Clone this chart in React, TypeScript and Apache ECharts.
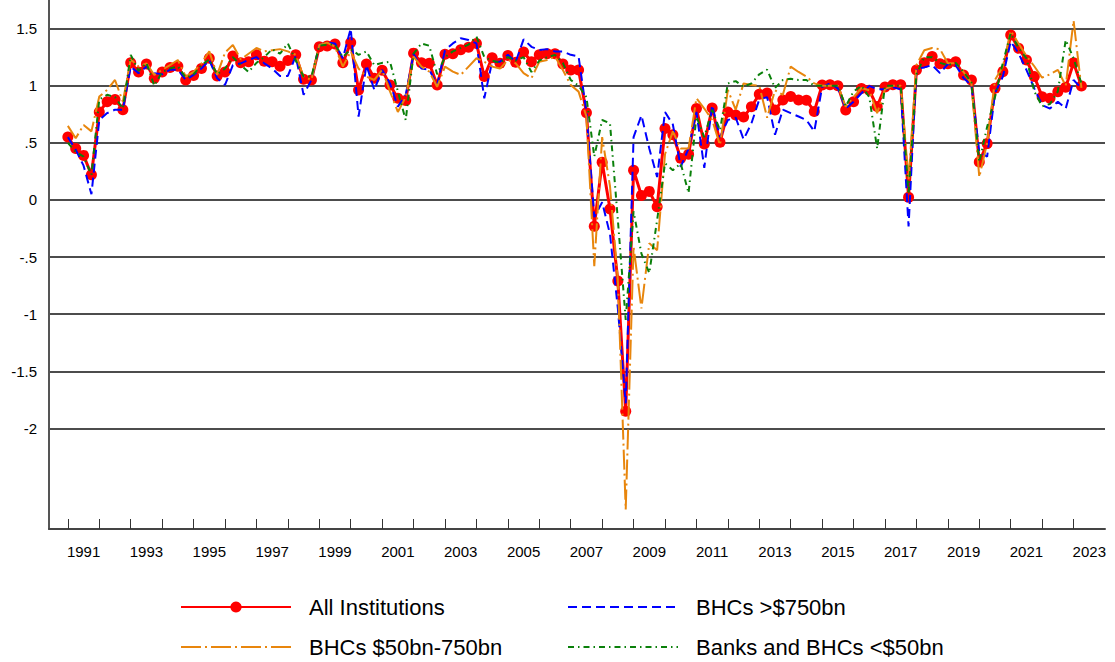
import React, { useEffect, useRef } from "react";
import * as echarts from "echarts";

// Quarterly data, 1991Q1 .. 2023Q2
const START_YEAR = 1991;

const xTickYears = [
  1991, 1992, 1993, 1994, 1995, 1996, 1997, 1998, 1999, 2000, 2001, 2002, 2003,
  2004, 2005, 2006, 2007, 2008, 2009, 2010, 2011, 2012, 2013, 2014, 2015, 2016,
  2017, 2018, 2019, 2020, 2021, 2022, 2023,
];
const xLabelYears = [
  1991, 1993, 1995, 1997, 1999, 2001, 2003, 2005, 2007, 2009, 2011, 2013, 2015,
  2017, 2019, 2021, 2023,
];
const yTickValues = [-2, -1.5, -1, -0.5, 0, 0.5, 1, 1.5];

const allInstitutions = [
  0.55, 0.45, 0.39, 0.22, 0.77, 0.86, 0.88, 0.79,
  1.2, 1.12, 1.19, 1.065, 1.12, 1.16, 1.17, 1.05,
  1.09, 1.15, 1.24, 1.085, 1.12, 1.26, 1.2, 1.21,
  1.27, 1.215, 1.21, 1.17, 1.22, 1.27, 1.056, 1.05,
  1.34, 1.348, 1.365, 1.2, 1.377, 0.963, 1.19, 1.065,
  1.135, 1.006, 0.89, 0.87, 1.285, 1.2, 1.196, 1.006,
  1.275, 1.28, 1.315, 1.336, 1.37, 1.08, 1.245, 1.196,
  1.265, 1.205, 1.295, 1.21, 1.27, 1.28, 1.28, 1.19,
  1.138, 1.138, 0.764, -0.23, 0.33, -0.08, -0.71, -1.85,
  0.26, 0.04, 0.075, -0.06, 0.625, 0.57, 0.365, 0.4,
  0.8, 0.49, 0.805, 0.505, 0.77, 0.744, 0.725, 0.815,
  0.925, 0.937, 0.788, 0.875, 0.905, 0.875, 0.872, 0.775,
  1.006, 1.008, 1.0, 0.788, 0.86, 0.975, 0.96, 0.817,
  0.988, 1.008, 1.008, 0.023, 1.138, 1.2, 1.255, 1.193,
  1.193, 1.21, 1.094, 1.05, 0.333, 0.493, 0.977, 1.123,
  1.444, 1.327, 1.225, 1.08, 0.904, 0.89, 0.948, 0.986,
  1.2, 0.998,
];

const bhcsLarge = [
  0.55, 0.44, 0.3, 0.05, 0.7, 0.76, 0.79, 0.79,
  1.167, 1.11, 1.167, 1.11, 1.1, 1.14, 1.14, 1.05,
  1.094, 1.15, 1.225, 1.065, 1.006, 1.18, 1.196, 1.225,
  1.25, 1.196, 1.15, 1.085, 1.085, 1.26, 0.92, 1.05,
  1.357, 1.377, 1.37, 1.24, 1.5, 0.73, 1.18, 0.963,
  1.138, 1.02, 0.817, 0.92, 1.28, 1.15, 1.14, 1.006,
  1.31, 1.37, 1.415, 1.4, 1.37, 0.89, 1.21, 1.21,
  1.27, 1.21, 1.406, 1.34, 1.313, 1.32, 1.3, 1.3,
  1.27, 1.255, 0.77, -0.15, -0.02, -0.3, -0.95, -1.78,
  0.55, 0.74, 0.45, 0.2, 0.77, 0.66, 0.29, 0.45,
  0.77, 0.28, 0.83, 0.55, 0.7, 0.72, 0.53, 0.67,
  0.88, 0.9, 0.57, 0.79, 0.76, 0.73, 0.7, 0.6,
  0.99, 1.02, 0.977, 0.8, 0.86, 0.934, 0.998, 0.969,
  0.969, 0.986, 0.969, -0.233, 1.15, 1.16, 1.18, 1.11,
  1.19, 1.18, 1.065, 1.006, 0.42, 0.38, 0.934, 1.08,
  1.386, 1.284, 1.138, 0.977, 0.83, 0.8, 0.86, 0.8,
  1.05, 0.977,
];

const bhcsMid = [
  0.648, 0.54, 0.656, 0.6, 0.905, 0.963, 1.05, 0.86,
  1.23, 1.167, 1.196, 1.094, 1.14, 1.18, 1.225, 1.08,
  1.12, 1.196, 1.3, 1.094, 1.29, 1.357, 1.23, 1.28,
  1.33, 1.3, 1.31, 1.32, 1.3, 1.27, 1.08, 1.05,
  1.357, 1.377, 1.34, 1.167, 1.3, 1.15, 1.08, 1.05,
  1.138, 0.95, 0.77, 0.9, 1.255, 1.167, 1.123, 0.99,
  1.167, 1.123, 1.094, 1.167, 1.24, 1.21, 1.167, 1.15,
  1.225, 1.196, 1.11, 1.065, 1.21, 1.225, 1.255, 1.138,
  1.006, 0.948, 0.73, -0.58, 0.55, 0.12, -0.7, -2.71,
  -0.41, -0.95, -0.38, -0.44, 0.4, 0.6, 0.45, 0.45,
  0.89, 0.8, 0.7, 0.48, 0.963, 0.79, 1.02, 1.006,
  0.998, 0.72, 0.96, 0.92, 1.167, 1.12, 1.08, 1.02,
  1.0, 1.0, 1.0, 0.817, 0.9, 0.98, 0.96, 0.76,
  0.97, 1.0, 1.0, 0.18, 1.18, 1.31, 1.33, 1.32,
  1.196, 1.196, 1.12, 1.02, 0.2, 0.5, 1.05, 1.167,
  1.48, 1.37, 1.26, 1.17, 1.07, 1.1, 1.138, 0.998,
  1.57, 0.98,
];

const banksSmall = [
  0.5, 0.42, 0.38, 0.22, 0.88, 0.92, 0.9, 0.8,
  1.27, 1.13, 1.2, 1.0, 1.12, 1.15, 1.17, 1.07,
  1.1, 1.18, 1.23, 1.1, 1.15, 1.25, 1.18, 1.12,
  1.2, 1.25, 1.32, 1.28, 1.37, 1.22, 1.08, 1.08,
  1.35, 1.36, 1.36, 1.25, 1.32, 1.27, 1.3, 1.18,
  1.2, 1.21, 0.95, 0.7, 1.28, 1.37, 1.35, 1.1,
  1.25, 1.3, 1.33, 1.36, 1.43, 1.25, 1.22, 1.2,
  1.25, 1.22, 1.25, 1.12, 1.22, 1.25, 1.27, 1.2,
  1.05, 1.0, 0.9, 0.38, 0.7, 0.67, -0.175, -1.05,
  -0.1, -0.47, -0.64, -0.175, 0.32, 0.26, 0.32, 0.06,
  0.73, 0.55, 0.79, 0.61, 1.02, 1.04, 0.99, 1.02,
  1.1, 1.14, 0.98, 1.05, 1.06, 1.05, 1.05, 1.0,
  1.0, 1.0, 1.0, 0.82, 0.95, 1.0, 0.9, 0.45,
  1.0, 1.0, 1.0, 0.05, 1.1, 1.25, 1.25, 1.2,
  1.18, 1.2, 1.12, 1.03, 0.33, 0.64, 0.9, 1.2,
  1.46, 1.33, 1.24, 0.95, 0.82, 0.84, 0.95, 1.4,
  1.24, 1.02,
];

const FONT = "'Liberation Sans', Arial, Helvetica, sans-serif";

const toPoints = (vals: number[]) =>
  vals.map((v, i) => [START_YEAR + i / 4, v]);

const fmtY = (v: number) => {
  if (v === 0) return "0";
  const s = String(v);
  return s.replace(/^(-?)0\./, "$1.");
};

export default function App() {
  const ref = useRef<HTMLDivElement>(null);

  useEffect(() => {
    if (!ref.current) return;
    const chart = echarts.init(ref.current, undefined, { renderer: "svg" });

    const legendCommon = {
      orient: "horizontal",
      padding: 0,
      itemWidth: 110,
      itemHeight: 14,
      selectedMode: false,
      textStyle: {
        fontFamily: FONT,
        fontSize: 22,
        color: "#000",
        padding: [0, 0, 0, 13],
      },
    };

    const option: any = {
      animation: false,
      backgroundColor: "#ffffff",
      textStyle: { fontFamily: FONT },
      grid: { left: 49, right: 10, top: 0, bottom: 133, containLabel: false },
      xAxis: {
        type: "value",
        min: 1990.4,
        max: 2024,
        axisLine: { show: true, onZero: false, lineStyle: { color: "#444", width: 2 } },
        axisTick: {
          show: true,
          inside: true,
          length: 10,
          customValues: xTickYears,
          lineStyle: { color: "#333", width: 1 },
        },
        axisLabel: {
          customValues: xLabelYears.map((y) => y + 0.5),
          formatter: (v: number) => String(Math.floor(v)),
          fontSize: 15,
          color: "#000",
          margin: 15,
          fontFamily: FONT,
        },
        splitLine: { show: false },
      },
      yAxis: {
        type: "value",
        min: -2.88,
        max: 1.75,
        axisLine: { show: true, onZero: false, lineStyle: { color: "#555", width: 2 } },
        axisTick: { show: false, customValues: yTickValues },
        axisLabel: {
          customValues: yTickValues,
          formatter: fmtY,
          fontSize: 15,
          color: "#000",
          margin: 12,
          fontFamily: FONT,
        },
        splitLine: { show: true, lineStyle: { color: "#111", width: 1.5 } },
      },
      legend: [
        { ...legendCommon, left: 180, top: 596, data: ["All Institutions"] },
        {
          ...legendCommon,
          left: 567,
          top: 596,
          data: [{ name: "BHCs >$750bn", itemStyle: { opacity: 0 } }],
        },
        {
          ...legendCommon,
          left: 180,
          top: 636,
          data: [{ name: "BHCs $50bn-750bn", itemStyle: { opacity: 0 } }],
        },
        {
          ...legendCommon,
          left: 567,
          top: 636,
          data: [{ name: "Banks and BHCs <$50bn", itemStyle: { opacity: 0 } }],
        },
      ],
      series: [
        {
          name: "All Institutions",
          type: "line",
          data: toPoints(allInstitutions),
          symbol: "circle",
          symbolSize: 11,
          showSymbol: true,
          itemStyle: { color: "#ff0000" },
          lineStyle: { color: "#ff0000", width: 3 },
          silent: true,
          emphasis: { disabled: true },
          z: 2,
        },
        {
          name: "BHCs >$750bn",
          type: "line",
          data: toPoints(bhcsLarge),
          symbol: "none",
          itemStyle: { color: "#0000ff" },
          lineStyle: { color: "#0000ff", width: 2, type: [9, 5] },
          silent: true,
          emphasis: { disabled: true },
          z: 3,
        },
        {
          name: "BHCs $50bn-750bn",
          type: "line",
          data: toPoints(bhcsMid),
          symbol: "none",
          itemStyle: { color: "#e8860d" },
          lineStyle: { color: "#e8860d", width: 2, type: [20, 4, 2, 4] },
          silent: true,
          emphasis: { disabled: true },
          z: 4,
        },
        {
          name: "Banks and BHCs <$50bn",
          type: "line",
          data: toPoints(banksSmall),
          symbol: "none",
          itemStyle: { color: "#0a800a" },
          lineStyle: { color: "#0a800a", width: 2, type: [6, 4, 1.5, 4] },
          silent: true,
          emphasis: { disabled: true },
          z: 5,
        },
      ],
    };

    chart.setOption(option);
    return () => chart.dispose();
  }, []);

  return (
    <div
      ref={ref}
      style={{ position: "absolute", left: 0, top: 0, width: 1115, height: 662 }}
    />
  );
}
